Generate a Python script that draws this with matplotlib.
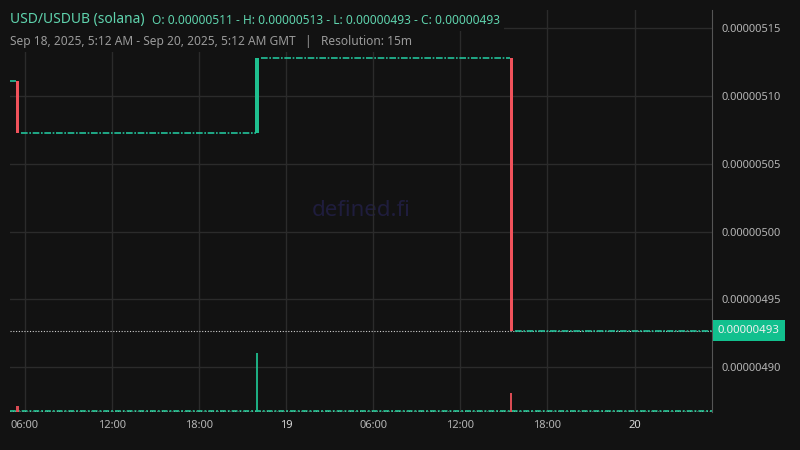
import numpy as np
import matplotlib
matplotlib.use("Agg")
import matplotlib.pyplot as plt
import matplotlib.dates as mdates
import matplotlib.transforms as mtrans
from datetime import datetime

plt.rcParams['font.family'] = ['Noto Sans', 'DejaVu Sans']

BG = '#121212'
GRID = '#2b2b2b'
TXT = '#b4b4b4'
UP = '#1fbf8f'
DOWN = '#f0525b'

# candles that actually move (time, open, close, volume)
c_time = [datetime(2025, 9, 18, 5, 30), datetime(2025, 9, 18, 22, 0), datetime(2025, 9, 19, 15, 30)]
c_open = [5.111e-6, 5.0727e-6, 5.1277e-6]
c_close = [5.0727e-6, 5.1277e-6, 4.927e-6]
c_vol = [10, 100, 32]

# flat stretches (start, end, price)
flat_start = [datetime(2025, 9, 18, 5, 0), datetime(2025, 9, 18, 5, 45), datetime(2025, 9, 18, 22, 15), datetime(2025, 9, 19, 15, 45)]
flat_end = [datetime(2025, 9, 18, 5, 24), datetime(2025, 9, 18, 21, 55), datetime(2025, 9, 19, 15, 25), datetime(2025, 9, 20, 5, 20)]
flat_price = [5.111e-6, 5.0727e-6, 5.1277e-6, 4.927e-6]

last_price = 4.927e-6
y_ticks = [4.90e-6, 4.95e-6, 5.00e-6, 5.05e-6, 5.10e-6, 5.15e-6]
x_ticks = [datetime(2025, 9, 18, 6), datetime(2025, 9, 18, 12), datetime(2025, 9, 18, 18),
           datetime(2025, 9, 19, 0), datetime(2025, 9, 19, 6), datetime(2025, 9, 19, 12),
           datetime(2025, 9, 19, 18), datetime(2025, 9, 20, 0)]
x_labels = ['06:00', '12:00', '18:00', '19', '06:00', '12:00', '18:00', '20']

fig = plt.figure(figsize=(8, 4.5), dpi=100, facecolor=BG)
ax = fig.add_axes([10 / 800, 38 / 450, 702 / 800, 402 / 450])
ax.set_facecolor(BG)

x0 = datetime(2025, 9, 18, 4, 59)
x1 = datetime(2025, 9, 20, 5, 20)
ax.set_xlim(mdates.date2num(x0), mdates.date2num(x1))
ax.set_ylim(4.867e-6, 5.1634e-6)

# volume on its own scale in the bottom
vax = ax.twinx()
vax.set_ylim(0, 100 * 402 / 59)
vax.axis('off')

ax.yaxis.tick_right()
ax.set_yticks(y_ticks)
ax.set_xticks(mdates.date2num(x_ticks))
ax.grid(True, color=GRID, linewidth=1)
ax.tick_params(length=0, colors=TXT, labelsize=8)
ax.tick_params(axis='y', pad=7)
ax.tick_params(axis='x', pad=6)
ax.set_yticklabels(['%.8f' % v for v in y_ticks], color=TXT, fontsize=8)
ax.set_xticklabels(x_labels, fontsize=8)
for lab, t in zip(ax.get_xticklabels(), x_labels):
    if len(t) == 2:
        lab.set_fontweight('bold')
        lab.set_color('#d8d8d8')
for s in ['top', 'left', 'bottom']:
    ax.spines[s].set_visible(False)
ax.spines['right'].set_color('#555555')

bw = 15 / (24 * 60) * 0.6
for t, o, c, v in zip(c_time, c_open, c_close, c_vol):
    col = UP if c >= o else DOWN
    xn = mdates.date2num(t)
    vax.bar(xn, v, width=bw, color=col, alpha=0.9, align='center', linewidth=0, zorder=3)
vax.axhline(1.5, color=UP, linewidth=1.4, linestyle=(0, (3, 1, 1, 1)), alpha=0.9, zorder=2)
vax.axhline(1.5, color='#dddddd', linewidth=0.8, linestyle=(0, (0.6, 1.6)), alpha=0.5, zorder=2)

# price candles
cw = 15 / (24 * 60) * 0.9
for t, o, c in zip(c_time, c_open, c_close):
    col = UP if c >= o else DOWN
    xn = mdates.date2num(t)
    ax.bar(xn, abs(c - o), bottom=min(o, c), width=cw, color=col, zorder=3, align='center', linewidth=0)
for s, e, p in zip(flat_start, flat_end, flat_price):
    ax.hlines(p, mdates.date2num(s), mdates.date2num(e), color='#22c29a', linewidth=1.2,
              linestyles=[(0, (4, 1, 1, 1))], zorder=3)

# last price line and label
ax.axhline(last_price, color='#cfcfcf', linewidth=0.8, linestyle=(0, (1, 1.5)), zorder=2)
tr = mtrans.blended_transform_factory(fig.transFigure, ax.transData)
ax.text(718 / 800, last_price, '%.8f' % last_price, transform=tr,
        ha='left', va='center', fontsize=8.2, color='#f0f0f0', zorder=6, clip_on=False,
        bbox=dict(boxstyle='square,pad=0.45', facecolor='#12c08e', edgecolor='none'))

# watermark
ax.text(0.5, 0.5, 'defined.fi', transform=ax.transAxes, ha='center', va='center',
        fontsize=16, color='#1f1d3d', zorder=1)

# header
fig.text(10 / 800, 1 - 20 / 450, 'USD/USDUB (solana)', fontsize=10, color='#5fd3ad',
         va='center', ha='left', bbox=dict(facecolor=BG, edgecolor='none', pad=3))
fig.text(152 / 800, 1 - 20 / 450, 'O: 0.00000511 - H: 0.00000513 - L: 0.00000493 - C: 0.00000493',
         fontsize=8.6, color='#5fd3ad', va='center', ha='left',
         bbox=dict(facecolor=BG, edgecolor='none', pad=3))
fig.text(10 / 800, 1 - 41 / 450, 'Sep 18, 2025, 5:12 AM - Sep 20, 2025, 5:12 AM GMT   |   Resolution: 15m',
         fontsize=8.6, color='#9a9a9a', va='center', ha='left',
         bbox=dict(facecolor=BG, edgecolor='none', pad=3))

fig.savefig('out.png', dpi=100, facecolor=BG)
